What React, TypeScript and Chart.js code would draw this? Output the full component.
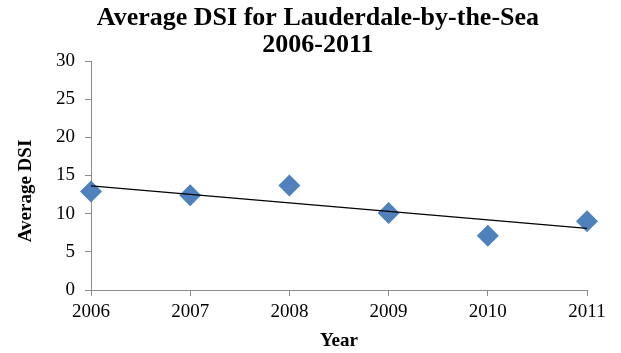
import React, { useEffect, useRef } from "react";
import { Chart, registerables } from "chart.js";

Chart.register(...registerables);

const years = ["2006", "2007", "2008", "2009", "2010", "2011"];
const avgDsi = [12.9, 12.4, 13.7, 10.1, 7.1, 9.0];
const yTicks = [0, 5, 10, 15, 20, 25, 30];
const titleLines = ["Average DSI for Lauderdale-by-the-Sea", "2006-2011"];
const yAxisTitle = "Average DSI";

const SERIF = "'Liberation Serif', 'Times New Roman', serif";
const AXIS_GRAY = "#8c8c8c";
const MARKER_BLUE = "#4f81bd";

// Least-squares linear trend across the yearly averages
function linearTrend(values: number[]): number[] {
  const n = values.length;
  const mx = (n - 1) / 2;
  const my = values.reduce((a, b) => a + b, 0) / n;
  let sxy = 0;
  let sxx = 0;
  values.forEach((v, i) => {
    sxy += (i - mx) * (v - my);
    sxx += (i - mx) * (i - mx);
  });
  const slope = sxy / sxx;
  return values.map((_, i) => my + slope * (i - mx));
}

// Two-line heading above the plot and the rotated y-axis caption
const headingPlugin = {
  id: "heading",
  afterDraw(chart: any) {
    const { ctx, width } = chart;
    ctx.save();
    ctx.fillStyle = "#000";
    ctx.font = `bold 26px ${SERIF}`;
    ctx.textAlign = "center";
    ctx.textBaseline = "middle";
    const cx = width * 0.512;
    titleLines.forEach((line, i) => ctx.fillText(line, cx, 18 + i * 27));

    ctx.font = `bold 19px ${SERIF}`;
    ctx.translate(26, 191);
    ctx.rotate(-Math.PI / 2);
    ctx.fillText(yAxisTitle, 0, 0);
    ctx.restore();
  },
};

export default function App() {
  const canvasRef = useRef<HTMLCanvasElement | null>(null);

  useEffect(() => {
    if (!canvasRef.current) return;
    const chart = new Chart(canvasRef.current, {
      type: "line",
      data: {
        labels: years,
        datasets: [
          {
            label: "Linear trend",
            data: linearTrend(avgDsi),
            borderColor: "#000",
            borderWidth: 1.2,
            pointRadius: 0,
            fill: false,
            tension: 0,
          },
          {
            label: "Average DSI",
            data: avgDsi,
            showLine: false,
            pointStyle: "rectRot",
            pointRadius: 11,
            pointBackgroundColor: MARKER_BLUE,
            pointBorderColor: MARKER_BLUE,
            pointBorderWidth: 0,
          },
        ],
      },
      options: {
        responsive: false,
        animation: false,
        layout: { padding: { left: 0, right: 34, top: 61, bottom: 0 } },
        plugins: {
          legend: { display: false },
          tooltip: { enabled: false },
          title: { display: false },
        },
        scales: {
          x: {
            type: "category",
            offset: false,
            grid: {
              display: true,
              drawOnChartArea: false,
              drawTicks: true,
              tickLength: 6,
              color: AXIS_GRAY,
            },
            border: { display: true, color: AXIS_GRAY, width: 1 },
            ticks: {
              color: "#000",
              font: { family: SERIF, size: 19 },
              padding: 5,
              maxRotation: 0,
            },
            title: {
              display: true,
              text: "Year",
              color: "#000",
              font: { family: SERIF, size: 19, weight: "bold" },
              padding: { top: 0, bottom: 1 },
            },
            afterFit(scale: any) {
              scale.height = 63;
            },
          },
          y: {
            min: 0,
            max: 30,
            afterBuildTicks(scale: any) {
              scale.ticks = yTicks.map((v) => ({ value: v }));
            },
            grid: {
              display: true,
              drawOnChartArea: false,
              drawTicks: true,
              tickLength: 6,
              color: AXIS_GRAY,
            },
            border: { display: true, color: AXIS_GRAY, width: 1 },
            ticks: {
              color: "#000",
              font: { family: SERIF, size: 19 },
              padding: 10,
            },
            title: { display: false },
            afterFit(scale: any) {
              scale.width = 91;
            },
          },
        },
      },
      plugins: [headingPlugin],
    });
    return () => chart.destroy();
  }, []);

  return (
    <div style={{ position: "absolute", left: 0, top: 0, width: 621, height: 353, background: "#fff" }}>
      <canvas ref={canvasRef} width={621} height={353} />
    </div>
  );
}
